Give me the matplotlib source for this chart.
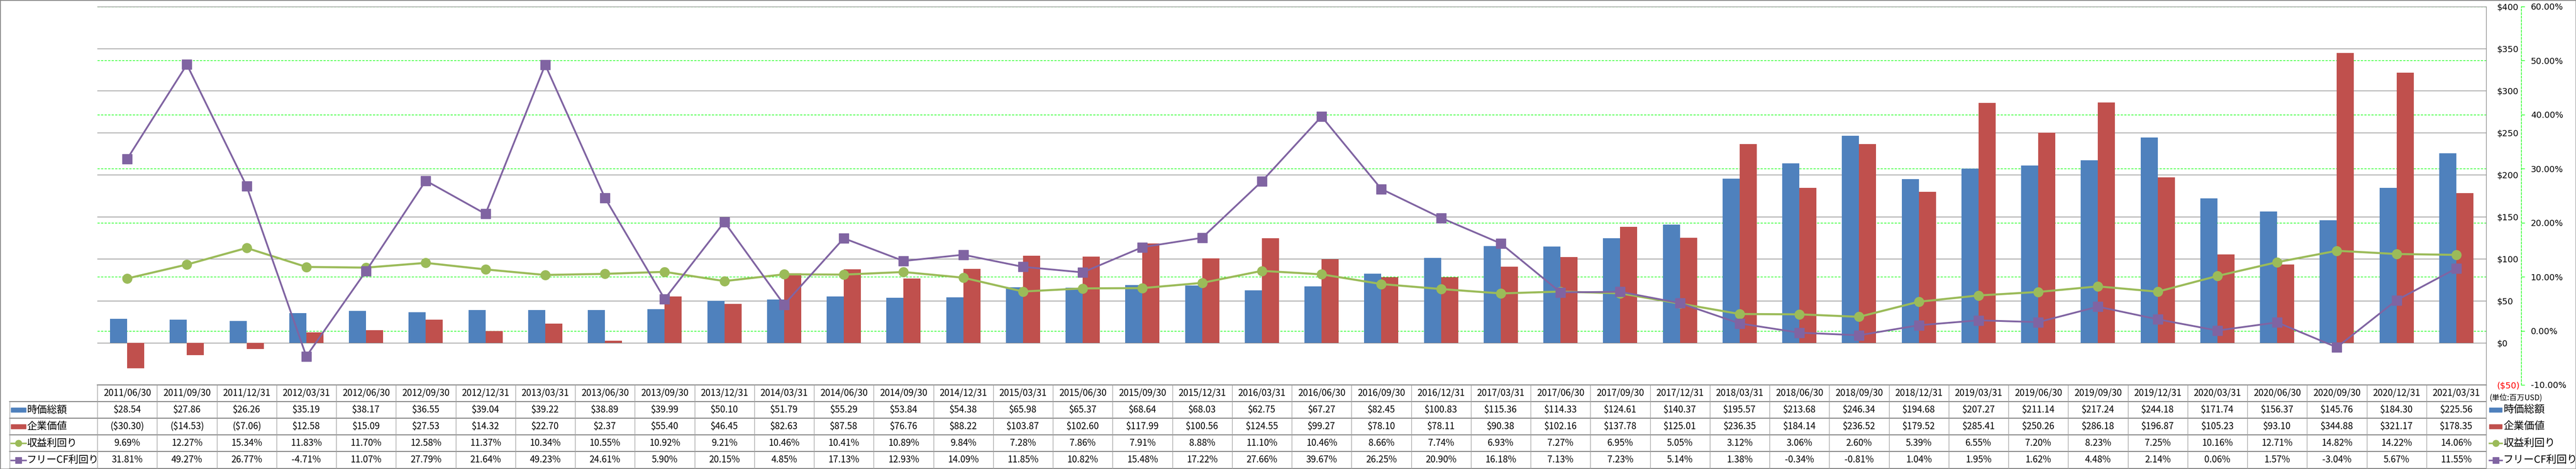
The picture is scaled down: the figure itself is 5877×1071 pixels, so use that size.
import matplotlib
matplotlib.use('Agg')
import matplotlib.pyplot as plt
import numpy as np
from matplotlib import transforms
from matplotlib.lines import Line2D
from matplotlib.patches import Rectangle
from matplotlib.ticker import FuncFormatter

plt.rcParams['font.family'] = ['DejaVu Sans', 'Noto Sans CJK JP']
JP = ['Noto Sans CJK JP', 'DejaVu Sans']

# ---- data (百万USD / %) ----
dates = ['2011/06/30', '2011/09/30', '2011/12/31', '2012/03/31', '2012/06/30', '2012/09/30',
         '2012/12/31', '2013/03/31', '2013/06/30', '2013/09/30', '2013/12/31', '2014/03/31',
         '2014/06/30', '2014/09/30', '2014/12/31', '2015/03/31', '2015/06/30', '2015/09/30',
         '2015/12/31', '2016/03/31', '2016/06/30', '2016/09/30', '2016/12/31', '2017/03/31',
         '2017/06/30', '2017/09/30', '2017/12/31', '2018/03/31', '2018/06/30', '2018/09/30',
         '2018/12/31', '2019/03/31', '2019/06/30', '2019/09/30', '2019/12/31', '2020/03/31',
         '2020/06/30', '2020/09/30', '2020/12/31', '2021/03/31']
market_cap = [28.54, 27.86, 26.26, 35.19, 38.17, 36.55, 39.04, 39.22, 38.89, 39.99,
              50.10, 51.79, 55.29, 53.84, 54.38, 65.98, 65.37, 68.64, 68.03, 62.75,
              67.27, 82.45, 100.83, 115.36, 114.33, 124.61, 140.37, 195.57, 213.68, 246.34,
              194.68, 207.27, 211.14, 217.24, 244.18, 171.74, 156.37, 145.76, 184.30, 225.56]
ent_value = [-30.30, -14.53, -7.06, 12.58, 15.09, 27.53, 14.32, 22.70, 2.37, 55.40,
             46.45, 82.63, 87.58, 76.76, 88.22, 103.87, 102.60, 117.99, 100.56, 124.55,
             99.27, 78.10, 78.11, 90.38, 102.16, 137.78, 125.01, 236.35, 184.14, 236.52,
             179.52, 285.41, 250.26, 286.18, 196.87, 105.23, 93.10, 344.88, 321.17, 178.35]
earn_yield = [9.69, 12.27, 15.34, 11.83, 11.70, 12.58, 11.37, 10.34, 10.55, 10.92,
              9.21, 10.46, 10.41, 10.89, 9.84, 7.28, 7.86, 7.91, 8.88, 11.10,
              10.46, 8.66, 7.74, 6.93, 7.27, 6.95, 5.05, 3.12, 3.06, 2.60,
              5.39, 6.55, 7.20, 8.23, 7.25, 10.16, 12.71, 14.82, 14.22, 14.06]
fcf_yield = [31.81, 49.27, 26.77, -4.71, 11.07, 27.79, 21.64, 49.23, 24.61, 5.90,
             20.15, 4.85, 17.13, 12.93, 14.09, 11.85, 10.82, 15.48, 17.22, 27.66,
             39.67, 26.25, 20.90, 16.18, 7.13, 7.23, 5.14, 1.38, -0.34, -0.81,
             1.04, 1.95, 1.62, 4.48, 2.14, 0.06, 1.57, -3.04, 5.67, 11.55]
names = ['時価総額', '企業価値', '収益利回り', 'フリーCF利回り']
usd_ticks = np.arange(-50, 401, 50)
pct_ticks = np.arange(-10, 61, 10)

BLUE, RED, GREEN, PURPLE = '#4F81BD', '#C0504D', '#9BBB59', '#8064A2'
GRID = '#868686'
LIME = '#00FF00'

W, H, DPI = 5877, 1071, 100
fig = plt.figure(figsize=(W / DPI, H / DPI), dpi=DPI)
PX = transforms.Affine2D().scale(1 / W, -1 / H).translate(0, 1) + fig.transFigure

L, R, T, B = 222, 5672, 15, 879
ax = fig.add_axes([L / W, 1 - B / H, (R - L) / W, (B - T) / H])
ax2 = ax.twinx()
ax.set_zorder(2)
ax2.set_zorder(1)
ax.patch.set_visible(False)

x = np.arange(len(dates))
bw = 0.286
ax.bar(x - bw / 2, market_cap, bw, color=BLUE, zorder=2)
ax.bar(x + bw / 2, ent_value, bw, color=RED, zorder=2)
ax.plot(x, earn_yield, color=GREEN, lw=3.4, marker='o', ms=15.5, transform=ax2.transData,
        zorder=4, clip_on=False)
ax.plot(x, fcf_yield, color=PURPLE, lw=2.9, marker='s', ms=15.5, transform=ax2.transData,
        zorder=5, clip_on=False)

ax.set_xlim(-0.5, len(dates) - 0.5)
ax.set_ylim(-50, 400)
ax2.set_ylim(-10, 60)

# $ axis (labels on the right, no ticks)
ax.set_axisbelow(True)
ax.yaxis.grid(True, color=GRID, lw=1.0)
ax.set_yticks(usd_ticks)
ax.yaxis.set_major_formatter(FuncFormatter(lambda v, p: f'${v:.0f}' if v >= 0 else f'(${-v:.0f})'))
ax.yaxis.tick_right()
ax.tick_params(axis='y', length=0, pad=17.3, labelsize=14)
ax.tick_params(axis='x', length=0, labelbottom=False)
for tk, v in zip(ax.yaxis.get_major_ticks(), usd_ticks):
    if v < 0:
        tk.label2.set_color('red')
for s in ['left', 'top', 'bottom']:
    ax.spines[s].set_visible(False)
ax.spines['right'].set_color(GRID)
ax.spines['right'].set_linewidth(1.0)

# % axis
ax2.yaxis.grid(True, color=LIME, lw=1.0, ls=(0, (3.6, 2.2)))
ax2.set_yticks(pct_ticks)
ax2.yaxis.set_major_formatter(FuncFormatter(lambda v, p: f'{v:.2f}%'))
ax2.tick_params(axis='y', direction='out', length=5.8, width=1, color=LIME, pad=10, labelsize=14)
for tk, v in zip(ax2.yaxis.get_major_ticks(), pct_ticks):
    if v < 0:
        tk.label2.set_color('red')
for s in ['left', 'top', 'bottom']:
    ax2.spines[s].set_visible(False)
ax2.spines['right'].set_position(('outward', 57.6))
ax2.spines['right'].set_color(LIME)
ax2.spines['right'].set_linestyle((0, (3.6, 2.2)))
ax2.spines['right'].set_linewidth(1.0)

# plot-area right border runs down through the table
fig.add_artist(Line2D([R, R], [B, H], transform=PX, color=GRID, lw=1.0))
# outer frame
fig.add_artist(Rectangle((0, 0), 1, 1, transform=fig.transFigure, fill=False,
                         edgecolor=GRID, lw=2))

# ---- data table ----
rows = [879, 917, 955, 993, 1031, 1070]
TB = transforms.blended_transform_factory(ax.transData, PX)


def money(v):
    return f'${v:,.2f}' if v >= 0 else f'(${-v:,.2f})'


def pct(v):
    return f'{v:.2f}%'


table_rows = [[money(v) for v in market_cap], [money(v) for v in ent_value],
              [pct(v) for v in earn_yield], [pct(v) for v in fcf_yield]]
for i, d in enumerate(dates):
    fig.text(i, (rows[0] + rows[1]) / 2, d, transform=TB, ha='center', va='center',
             fontsize=15, family=JP)
    for r, vals in enumerate(table_rows):
        fig.text(i, (rows[r + 1] + rows[r + 2]) / 2, vals[i], transform=TB, ha='center',
                 va='center', fontsize=15, family=JP)

fig.add_artist(Line2D([L, R], [rows[0], rows[0]], transform=PX, color='#808080', lw=1.6))
for yy in rows[1:]:
    fig.add_artist(Line2D([22, R], [yy, yy], transform=PX, color='#808080', lw=1.6))
for e in np.arange(len(dates) + 1) - 0.5:
    fig.add_artist(Line2D([e, e], [rows[0], rows[-1]], transform=TB, color='#A0A0A0', lw=1.0))
fig.add_artist(Line2D([22, 22], [rows[1], rows[-1]], transform=PX, color='#A0A0A0', lw=1.0))


def draw_key(kind, x0, x1, yc):
    if kind == 0 or kind == 1:
        col = BLUE if kind == 0 else RED
        fig.add_artist(Rectangle((x0, yc - 5), x1 - x0, 10, transform=PX, color=col))
    else:
        col = GREEN if kind == 2 else PURPLE
        mk = 'o' if kind == 2 else 's'
        fig.add_artist(Line2D([x0, x1], [yc, yc], transform=PX, color=col, lw=2.5))
        fig.add_artist(Line2D([(x0 + x1) / 2], [yc], transform=PX, color=col, marker=mk,
                              ms=10.5, lw=0))


for r, nm in enumerate(names):
    yc = (rows[r + 1] + rows[r + 2]) / 2
    draw_key(r, 25, 59, yc)
    fig.text(61, yc, nm, transform=PX, ha='left', va='center', fontsize=16.5, family=JP)
    # right legend
    draw_key(r, 5679, 5708, yc)
    fig.text(5711, yc, nm, transform=PX, ha='left', va='center', fontsize=17, family=JP)

fig.text(5679, 908, '(単位:百万USD)', transform=PX, ha='left', va='center', fontsize=12.5,
         family=JP)

fig.savefig('out.png', dpi=DPI, facecolor='white')
